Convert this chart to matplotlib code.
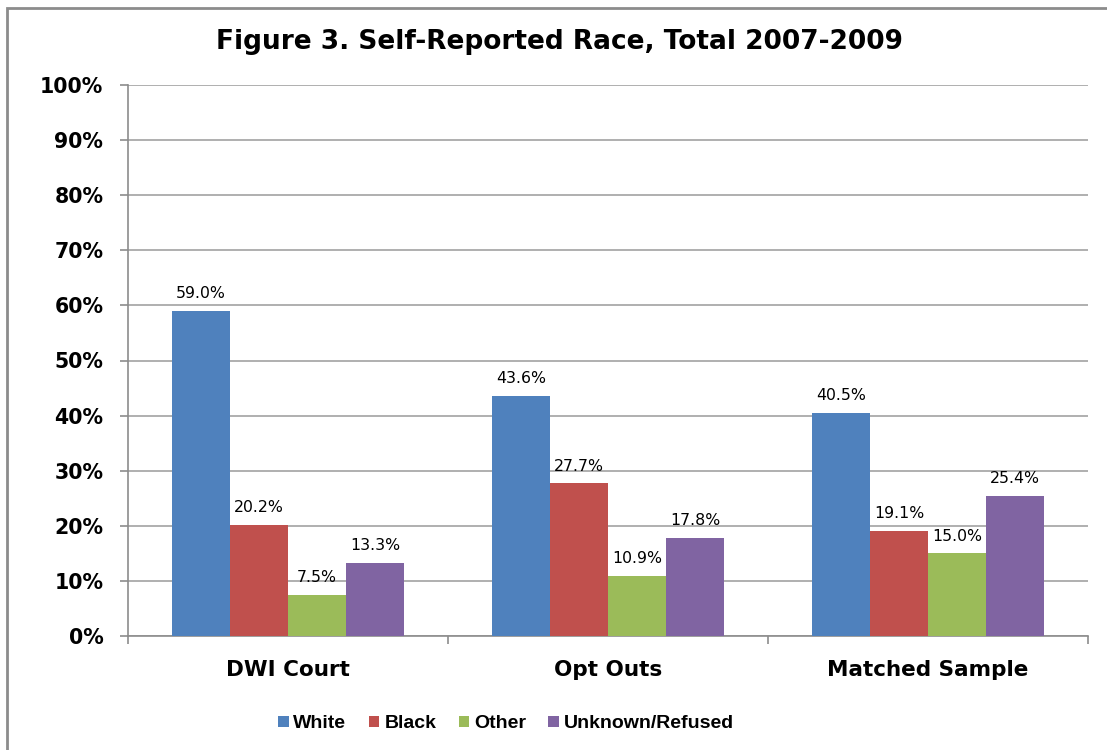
import matplotlib
matplotlib.use("Agg")
import matplotlib.pyplot as plt
from matplotlib.patches import Rectangle
import numpy as np

plt.rcParams['font.family'] = ['DejaVu Sans']

categories = ["DWI Court", "Opt Outs", "Matched Sample"]
series_names = ["White", "Black", "Other", "Unknown/Refused"]
white = [59.0, 43.6, 40.5]
black = [20.2, 27.7, 19.1]
other = [7.5, 10.9, 15.0]
unknown = [13.3, 17.8, 25.4]
yticks = [0, 10, 20, 30, 40, 50, 60, 70, 80, 90, 100]
colors = ["#4F81BD", "#C0504D", "#9BBB59", "#8064A2"]
title = "Figure 3. Self-Reported Race, Total 2007-2009"

series = [white, black, other, unknown]

fig = plt.figure(figsize=(11.07, 7.5), dpi=100)
ax = fig.add_axes([128/1107, 1-636/750, (1088-128)/1107, (636-85)/750])

x = np.arange(len(categories))
w = 58/320
for i, (vals, c, name) in enumerate(zip(series, colors, series_names)):
    pos = x + (i - 1.5) * w
    bars = ax.bar(pos, vals, width=w, color=c, label=name, zorder=3,
                  edgecolor='none')
    for b, v in zip(bars, vals):
        ax.annotate(f"{v:.1f}%", (b.get_x() + b.get_width()/2, v),
                    xytext=(0, 7), textcoords='offset points',
                    ha='center', va='bottom', fontsize=11.3, color='black')

ax.set_xlim(-0.5, 2.5)
ax.set_ylim(0, 100)
ax.set_yticks(yticks)
ax.set_yticklabels([f"{t}%" for t in yticks], fontsize=14.8, fontweight='bold')
ax.yaxis.grid(True, color='#AFAFAF', linewidth=1.4, zorder=0)
ax.set_axisbelow(True)

ax.set_xticks(x)
ax.set_xticklabels(categories, fontsize=15.5, fontweight='bold')
ax.tick_params(axis='x', length=0, pad=17)
ax.set_xticks([-0.5, 0.5, 1.5, 2.5], minor=True)
ax.tick_params(axis='x', which='minor', length=6, color='#8C8C8C', width=1.2)
ax.tick_params(axis='y', length=5.8, color='#8C8C8C', width=1.2, pad=12)

for s in ['top', 'right']:
    ax.spines[s].set_visible(False)
for s in ['left', 'bottom']:
    ax.spines[s].set_color('#8C8C8C')
    ax.spines[s].set_linewidth(1.2)

fig.text(560/1107, 1-42/750, title, ha='center', va='center',
         fontsize=19, fontweight='bold')

leg = fig.legend(loc='center', bbox_to_anchor=(506/1107, 1-724/750),
                 ncol=4, frameon=False,
                 prop={'family': 'Liberation Sans', 'size': 14, 'weight': 'bold'},
                 handlelength=0.55, handleheight=0.55, handletextpad=0.25,
                 columnspacing=1.15)

# outer chart frame
fig.patches.append(Rectangle((7/1107, -0.1), 1.2, 1 - 8/750 + 0.1,
                             transform=fig.transFigure, fill=False,
                             edgecolor='#8C8C8C', linewidth=2))

fig.savefig("out.png", dpi=100)
